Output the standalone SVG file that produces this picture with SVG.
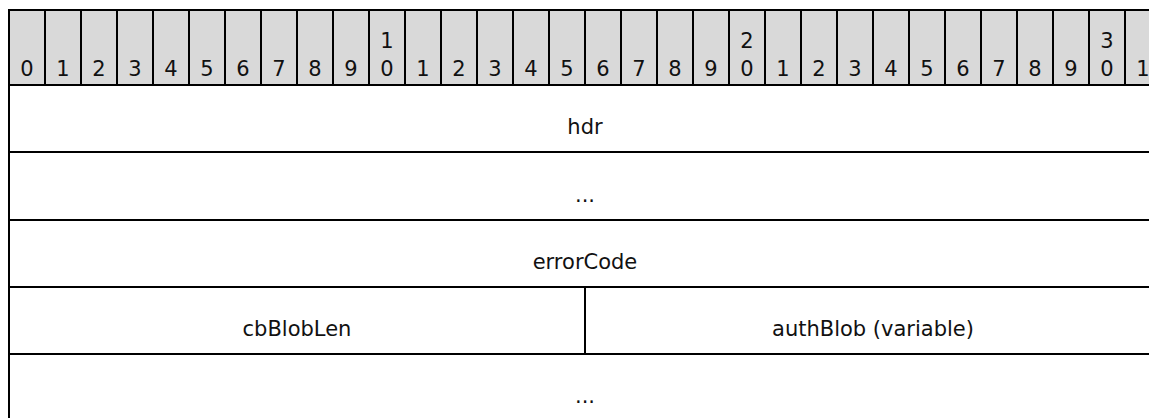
<svg xmlns="http://www.w3.org/2000/svg" width="1149" height="418" viewBox="0 0 1149 418">
<style>
.bit{fill:#d9d9d9;stroke:#000;stroke-width:2}
.fld{fill:#fff;stroke:#000;stroke-width:2}
text{font-family:"DejaVu Sans",Verdana,"Liberation Sans",sans-serif;font-size:21px;fill:#111;text-anchor:middle}
</style>
<rect width="1149" height="418" fill="#fff"/>
<g id="header">
<g id="bit0"><rect class="bit" x="9" y="10" width="36" height="75"/><text x="27" y="76">0</text></g>
<g id="bit1"><rect class="bit" x="45" y="10" width="36" height="75"/><text x="63" y="76">1</text></g>
<g id="bit2"><rect class="bit" x="81" y="10" width="36" height="75"/><text x="99" y="76">2</text></g>
<g id="bit3"><rect class="bit" x="117" y="10" width="36" height="75"/><text x="135" y="76">3</text></g>
<g id="bit4"><rect class="bit" x="153" y="10" width="36" height="75"/><text x="171" y="76">4</text></g>
<g id="bit5"><rect class="bit" x="189" y="10" width="36" height="75"/><text x="207" y="76">5</text></g>
<g id="bit6"><rect class="bit" x="225" y="10" width="36" height="75"/><text x="243" y="76">6</text></g>
<g id="bit7"><rect class="bit" x="261" y="10" width="36" height="75"/><text x="279" y="76">7</text></g>
<g id="bit8"><rect class="bit" x="297" y="10" width="36" height="75"/><text x="315" y="76">8</text></g>
<g id="bit9"><rect class="bit" x="333" y="10" width="36" height="75"/><text x="351" y="76">9</text></g>
<g id="bit10"><rect class="bit" x="369" y="10" width="36" height="75"/><text x="387" y="48">1</text><text x="387" y="76">0</text></g>
<g id="bit11"><rect class="bit" x="405" y="10" width="36" height="75"/><text x="423" y="76">1</text></g>
<g id="bit12"><rect class="bit" x="441" y="10" width="36" height="75"/><text x="459" y="76">2</text></g>
<g id="bit13"><rect class="bit" x="477" y="10" width="36" height="75"/><text x="495" y="76">3</text></g>
<g id="bit14"><rect class="bit" x="513" y="10" width="36" height="75"/><text x="531" y="76">4</text></g>
<g id="bit15"><rect class="bit" x="549" y="10" width="36" height="75"/><text x="567" y="76">5</text></g>
<g id="bit16"><rect class="bit" x="585" y="10" width="36" height="75"/><text x="603" y="76">6</text></g>
<g id="bit17"><rect class="bit" x="621" y="10" width="36" height="75"/><text x="639" y="76">7</text></g>
<g id="bit18"><rect class="bit" x="657" y="10" width="36" height="75"/><text x="675" y="76">8</text></g>
<g id="bit19"><rect class="bit" x="693" y="10" width="36" height="75"/><text x="711" y="76">9</text></g>
<g id="bit20"><rect class="bit" x="729" y="10" width="36" height="75"/><text x="747" y="48">2</text><text x="747" y="76">0</text></g>
<g id="bit21"><rect class="bit" x="765" y="10" width="36" height="75"/><text x="783" y="76">1</text></g>
<g id="bit22"><rect class="bit" x="801" y="10" width="36" height="75"/><text x="819" y="76">2</text></g>
<g id="bit23"><rect class="bit" x="837" y="10" width="36" height="75"/><text x="855" y="76">3</text></g>
<g id="bit24"><rect class="bit" x="873" y="10" width="36" height="75"/><text x="891" y="76">4</text></g>
<g id="bit25"><rect class="bit" x="909" y="10" width="36" height="75"/><text x="927" y="76">5</text></g>
<g id="bit26"><rect class="bit" x="945" y="10" width="36" height="75"/><text x="963" y="76">6</text></g>
<g id="bit27"><rect class="bit" x="981" y="10" width="36" height="75"/><text x="999" y="76">7</text></g>
<g id="bit28"><rect class="bit" x="1017" y="10" width="36" height="75"/><text x="1035" y="76">8</text></g>
<g id="bit29"><rect class="bit" x="1053" y="10" width="36" height="75"/><text x="1071" y="76">9</text></g>
<g id="bit30"><rect class="bit" x="1089" y="10" width="36" height="75"/><text x="1107" y="48">3</text><text x="1107" y="76">0</text></g>
<g id="bit31"><rect class="bit" x="1125" y="10" width="36" height="75"/><text x="1143" y="76">1</text></g>
</g>
<g id="hdr"><rect class="fld" x="9" y="85" width="1152" height="67"/><text x="585" y="134">hdr</text></g>
<g id="cont1"><rect class="fld" x="9" y="152" width="1152" height="68"/><text x="585" y="201.5">...</text></g>
<g id="errorCode"><rect class="fld" x="9" y="220" width="1152" height="67"/><text x="585" y="269">errorCode</text></g>
<g id="cbBlobLen"><rect class="fld" x="9" y="287" width="576" height="67"/><text x="297" y="336">cbBlobLen</text></g>
<g id="authBlob"><rect class="fld" x="585" y="287" width="576" height="67"/><text x="873" y="336">authBlob (variable)</text></g>
<g id="cont2"><rect class="fld" x="9" y="354" width="1152" height="67"/><text x="585" y="403">...</text></g>
<g id="connectors"/>
</svg>
